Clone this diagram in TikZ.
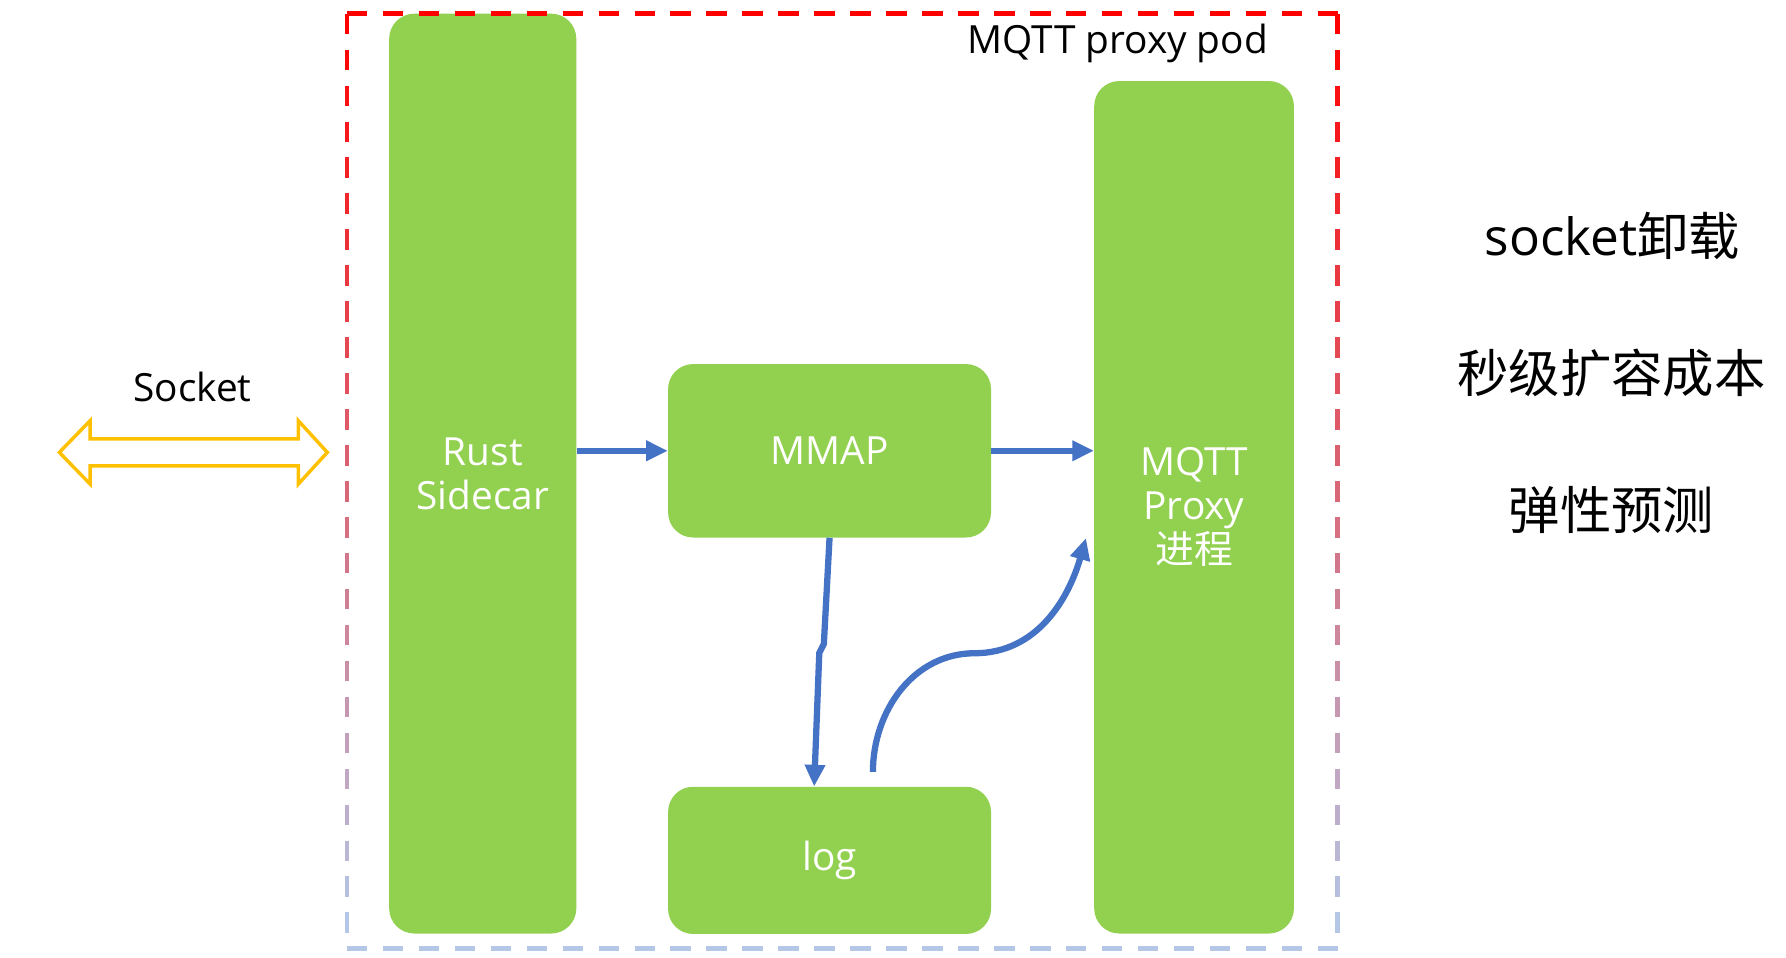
\documentclass[tikz,border=0pt]{standalone}
\usepackage{fontspec}
\setmainfont{Open Sans}
\newfontfamily\cjk{Noto Sans CJK SC}
\usepackage{tikz}
\usetikzlibrary{positioning, arrows.meta, calc}

\definecolor{boxgreen}{RGB}{146,208,80}
\definecolor{flowblue}{RGB}{68,114,196}
\definecolor{sockamber}{RGB}{255,192,0}
\definecolor{podred}{RGB}{255,0,0}
\definecolor{podblue}{RGB}{180,199,231}

\tikzset{
    block/.style={fill=boxgreen, rounded corners=22pt, text=white, align=center,
        inner sep=0pt, font=\fontsize{34}{38.5}\selectfont},
    flow/.style={draw=flowblue, line width=5.5pt, -{Triangle[length=19pt,width=17pt]}},
    podframe/.style={line width=4.2pt, dash pattern=on 18pt off 13.5pt},
    blacktext/.style={font=\fontsize{34}{38}\selectfont, inner sep=0pt, anchor=base},
    feature/.style={font=\fontsize{45}{54}\selectfont, inner sep=0pt, anchor=base}
}

\begin{document}
\begin{tikzpicture}[x=1pt, y=1pt]
        \useasboundingbox (0,0) rectangle (1565,-839.4);

        \node[block, minimum width=164pt, minimum height=806pt] (rust) at (423,-415) {Rust\\Sidecar};
        \node[block, minimum width=283pt, minimum height=152pt, right=80pt of rust, yshift=20pt] (mmap) {MMAP};
        \node[block, minimum width=283pt, minimum height=129pt, below=218pt of mmap] (log) {log};
        \node[block, minimum width=175pt, minimum height=747pt, right=90pt of mmap, yshift=-49.5pt] (mqtt) {MQTT\\Proxy\\{\cjk 进程}};

        \node[blacktext] (podlabel) at (979.5,-46.7) {MQTT proxy pod};
        \node[blacktext] (socktext) at (168.7,-352) {Socket};

        \node[feature] (offload) at (1413,-223.5) {socket{\cjk 卸载}};
        \node[feature] (scaling) at (1412,-344) {\cjk 秒级扩容成本};
        \node[feature] (predict) at (1412,-464) {\cjk 弹性预测};

        % socket double arrow
        \draw[draw=sockamber, line width=3pt] (52,-396.4) -- (79,-368.6) -- (79,-384.6) -- (261.4,-384.6)
            -- (261.4,-368.6) -- (286.8,-396.4) -- (261.4,-424.2) -- (261.4,-408.2)
            -- (79,-408.2) -- (79,-424.2) -- cycle;

        \coordinate (logout) at ($(log.north)+(38,12.8)$);
        \coordinate (bend) at (854,-572.4);
        \coordinate (mqttin) at ($(mqtt.west)+(-7,-27)$);

        \draw[flow] (rust.east |- mmap.west) -- (mmap.west);
        \draw[flow] (mmap.east) -- (mqtt.west |- mmap.east);
        \draw[flow] (mmap.south) -- ++(-5,-93) -- ++(-4,-8) -- ($(log.north)+(-13.5,0)$);
        \draw[flow] (logout) to[out=90, in=180] (bend) to[out=0, in=-106] (mqttin);

        % pod frame, red at the top fading to blue at the bottom
        \draw[podframe, draw=podred] (304,-12) -- (1172,-12);
        \draw[podframe, draw=podblue] (304,-831) -- (1172,-831);
        \foreach \i in {0,...,25} {
            \pgfmathsetmacro\p{100*\i/25}
            \draw[podframe, draw=podblue!\p!podred] (304,-12-31.5*\i) -- ++(0,-31.5);
            \draw[podframe, draw=podblue!\p!podred] (1172,-12-31.5*\i) -- ++(0,-31.5);
        }
    \end{tikzpicture}
\end{document}
